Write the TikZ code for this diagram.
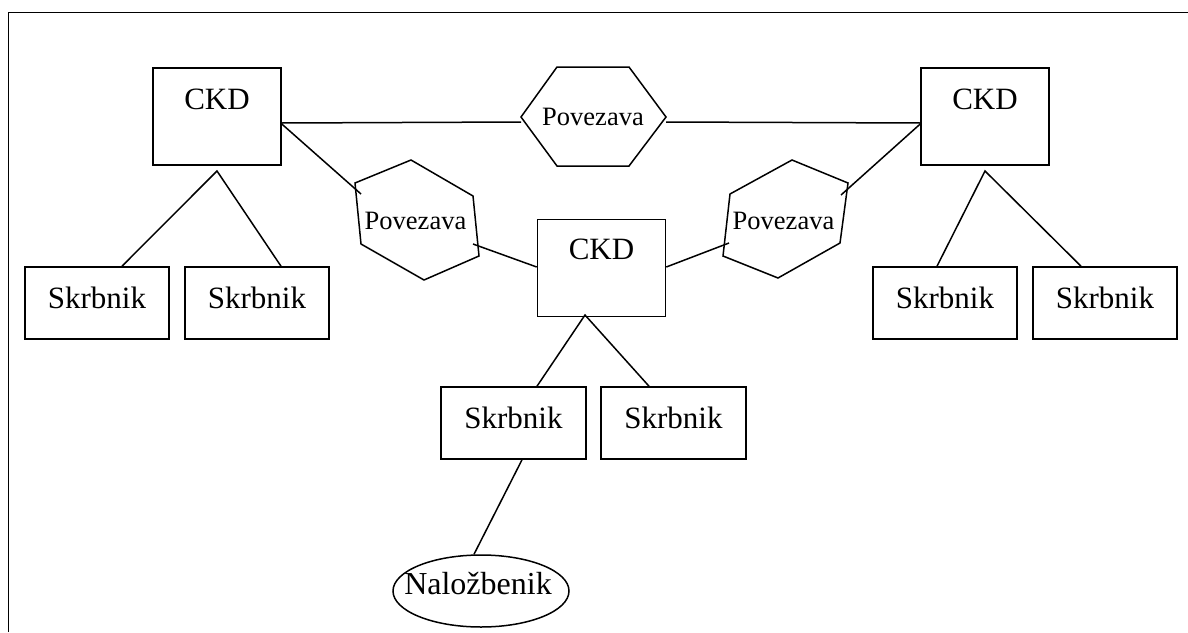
\documentclass[tikz,border=0pt]{standalone}
\usepackage{fontspec}
\setmainfont{Liberation Serif}
\usetikzlibrary{shapes.geometric}

\tikzset{
  frameline/.style={line width=1.5pt},
  conn/.style={line width=1.5pt},
  box/.style={draw, line width=1.6pt, rectangle, inner sep=0pt, minimum width=#1},
  box/.default=144pt,
  ckdbox/.style={box=128pt, minimum height=97pt},
  skrbox/.style={box=144pt, minimum height=72pt},
  hexline/.style={line width=1.5pt, line join=miter},
  bigtxt/.style={font=\fontsize{31}{31}\selectfont, inner sep=0pt, anchor=base},
  hextxt/.style={font=\fontsize{26.5}{26.5}\selectfont, inner sep=0pt, anchor=base},
  elltxt/.style={font=\fontsize{32}{32}\selectfont, inner sep=0pt, anchor=base},
}

\begin{document}
\begin{tikzpicture}[x=1pt, y=-1pt]
\useasboundingbox (0,0) rectangle (1188,632);

% open frame: top and left edges
\draw[frameline] (8.5,632) -- (8.5,12.5) -- (1188,12.5);

% CKD boxes
\node[ckdbox] (ckdL) at (217,116.5) {};
\node[ckdbox] (ckdR) at (985,116.5) {};
\node[ckdbox] (ckdM) at (601.5,268) {};
\node[bigtxt] (ckdLt) at (217,109) {CKD};
\node[bigtxt] (ckdRt) at (985,109) {CKD};
\node[bigtxt] (ckdMt) at (601.5,259) {CKD};

% Skrbnik boxes
\node[skrbox] (s1) at (97,303) {};
\node[skrbox] (s2) at (257,303) {};
\node[skrbox] (s3) at (945,303) {};
\node[skrbox] (s4) at (1105,303) {};
\node[skrbox, minimum width=145pt] (s5) at (513.5,423) {};
\node[skrbox, minimum width=145pt] (s6) at (673.5,423) {};
\foreach \n/\x/\y in {s1/97/308, s2/257/308, s3/945/308, s4/1105/308, s5/513.5/428, s6/673.5/428}
  \node[bigtxt] (\n t) at (\x,\y) {Skrbnik};

% Povezava hexagons
\draw[hexline] (521,117) -- (557,67) -- (629,67) -- (666,117) -- (629,166) -- (557,166) -- cycle;
\draw[hexline] (355,183) -- (411,160) -- (473,196) -- (479,256) -- (424,280) -- (361,244) -- cycle;
\draw[hexline] (730,194) -- (792,160) -- (848,183) -- (840,243) -- (778,278) -- (723,256) -- cycle;
\node[hextxt] (hT) at (593,125) {Povezava};
\node[hextxt] (hL) at (415.5,229) {Povezava};
\node[hextxt] (hR) at (783.5,229) {Povezava};

% Naložbenik ellipse
\node[draw, ellipse, line width=1.5pt, minimum width=176pt, minimum height=72pt, inner sep=0pt] (nal) at (481,591) {};
\node[elltxt] (nalt) at (478,594) {Naložbenik};

% connector end points
\coordinate (hTw) at (521,122);
\coordinate (hTe) at (666,122);
\coordinate (hLin) at (361,194);
\coordinate (hLout) at (473,244);
\coordinate (hRin) at (729,243);
\coordinate (hRout) at (841,195);
\coordinate (apL) at (217,171);
\coordinate (apR) at (985,171);
\coordinate (apM) at (585,315);

% connectors between CKD and Povezava
\draw[conn] (ckdL.east |- 0,123) -- (hTw);
\draw[conn] (hTe) -- (ckdR.west |- 0,123);
\draw[conn] (ckdL.east |- 0,124) -- (hLin);
\draw[conn] (hLout) -- (ckdM.west |- 0,267);
\draw[conn] (ckdM.east |- 0,267) -- (hRin);
\draw[conn] (hRout) -- (ckdR.west |- 0,124);

% CKD to Skrbnik
\draw[conn] (s1.north -| 122,0) -- (apL) -- (s2.north -| 281,0);
\draw[conn] (s3.north -| 937,0) -- (apR) -- (s4.north -| 1081,0);
\draw[conn] (s5.north -| 537,0) -- (apM) -- (s6.north -| 649,0);

% Skrbnik to Naložbenik
\draw[conn] (s5.south -| 522,0) -- (nal.north -| 474,0);
\end{tikzpicture}
\end{document}
